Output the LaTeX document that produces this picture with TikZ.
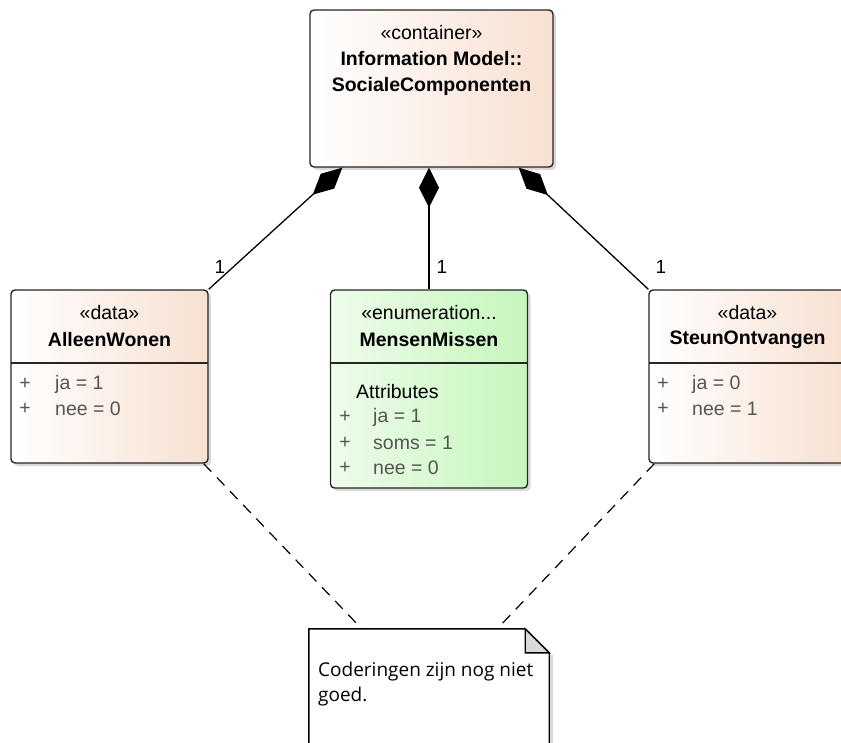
\documentclass[tikz,border=0pt]{standalone}
\usepackage{fontspec}
\setmainfont{Liberation Sans}
\newfontfamily\notefont{Open Sans}
\usetikzlibrary{arrows.meta,shadows}
\definecolor{peach}{RGB}{248,224,209}
\definecolor{mint}{RGB}{198,246,188}
\definecolor{mintlight}{RGB}{238,252,235}
\definecolor{attrgray}{RGB}{85,85,85}
\begin{document}
\begin{tikzpicture}[x=1pt,y=-1pt,
    classbox/.style={draw=black!85, line width=1.4pt, rounded corners=4pt, inner sep=0pt,
      minimum width=197pt, left color=white, right color=peach,
      drop shadow={shadow xshift=3pt, shadow yshift=-3pt, fill=black!25, opacity=0.6}},
    enumbox/.style={classbox, left color=mintlight, right color=mint},
    stereo/.style={inner sep=0pt, font=\fontsize{19.5}{22}\selectfont},
    cname/.style={inner sep=0pt, font=\fontsize{19.5}{22}\selectfont\bfseries},
    attr/.style={inner sep=0pt, anchor=west, text=attrgray, font=\fontsize{19.5}{22}\selectfont},
    vis/.style={inner sep=0pt, text=attrgray, font=\fontsize{19.5}{22}\selectfont},
    mult/.style={inner sep=0pt, font=\fontsize{19}{22}\selectfont},
    comp/.style={line width=1.3pt, {Diamond[length=40pt,width=20pt]}-},
    notelink/.style={line width=1.2pt, dash pattern=on 11pt off 8pt}]
\clip (0,0) rectangle (841,743);

% Container
\node[classbox, minimum width=243pt, minimum height=157pt] (container) at (431.5,88.5) {};
\node[stereo] (container-st) at (431.5,33) {«container»};
\node[cname] (container-n1) at (431.5,59) {Information Model::};
\node[cname] (container-n2) at (431.5,86) {SocialeComponenten};

% AlleenWonen
\node[classbox, minimum height=173pt] (alleen) at (109.5,376.5) {};
\node[stereo] (alleen-st) at (109.5,313) {«data»};
\node[cname] (alleen-n) at (109.5,340) {AlleenWonen};
\draw[line width=1.2pt, black!85] (11,363) -- (208,363);
\node[vis] at (25,384) {+};
\node[attr] (alleen-a1) at (55,384) {ja = 1};
\node[vis] at (25,409) {+};
\node[attr] (alleen-a2) at (55,409) {nee = 0};

% MensenMissen
\node[enumbox, minimum height=198pt] (mensen) at (429,389) {};
\node[stereo] (mensen-st) at (429,313) {«enumeration...};
\node[cname] (mensen-n) at (429,340) {MensenMissen};
\draw[line width=1.2pt, black!85] (330,363) -- (528,363);
\node[inner sep=0pt, anchor=west, font=\fontsize{19.5}{22}\selectfont] (mensen-attr) at (356,392) {Attributes};
\node[vis] at (345,417) {+};
\node[attr] (mensen-a1) at (373,417) {ja = 1};
\node[vis] at (345,443) {+};
\node[attr] (mensen-a2) at (373,443) {soms = 1};
\node[vis] at (345,468) {+};
\node[attr] (mensen-a3) at (373,468) {nee = 0};

% SteunOntvangen
\node[classbox, minimum height=173pt] (steun) at (747.5,376.5) {};
\node[stereo] (steun-st) at (747.5,313) {«data»};
\node[cname] (steun-n) at (747.5,340) {SteunOntvangen};
\draw[line width=1.2pt, black!85] (649,363) -- (846,363);
\node[vis] at (663,384) {+};
\node[attr] (steun-a1) at (692,384) {ja = 0};
\node[vis] at (663,409) {+};
\node[attr] (steun-a2) at (692,409) {nee = 1};

% Compositions
\draw[comp] ([xshift=33pt]container.south west) -- (alleen.north east);
\draw[comp] (mensen.north |- container.south) -- (mensen.north);
\draw[comp] ([xshift=-35pt]container.south east) -- (steun.north west);
\node[mult] (m-alleen) at (220,267) {1};
\node[mult] (m-mensen) at (442,267) {1};
\node[mult] (m-steun) at (661,267) {1};

% Note
\node[minimum width=240pt, minimum height=151pt, inner sep=0pt] (note) at (429,704.5) {};
\fill[black!15] ([yshift=-26pt]note.north east) rectangle ([xshift=4pt]note.south east);
\draw[line width=1.4pt, fill=white] (note.south west) -- (note.north west)
  -- ([xshift=-24pt]note.north east) -- ([yshift=-24pt]note.north east) -- (note.south east);
\draw[line width=1.4pt, fill=black!15] ([xshift=-24pt]note.north east)
  -- ([xshift=-24pt,yshift=-24pt]note.north east) -- ([yshift=-24pt]note.north east) -- cycle;
\node[anchor=north west, inner sep=0pt, align=left, font=\notefont\fontsize{19}{25}\selectfont]
  (note-text) at (318,662) {Coderingen zijn nog niet\\goed.};

% Note links
\draw[notelink] ([xshift=-5pt]alleen.south east) -- ([xshift=53pt]note.north west);
\draw[notelink] ([xshift=6pt]steun.south west) -- ([xshift=-52pt]note.north east);
\end{tikzpicture}
\end{document}
